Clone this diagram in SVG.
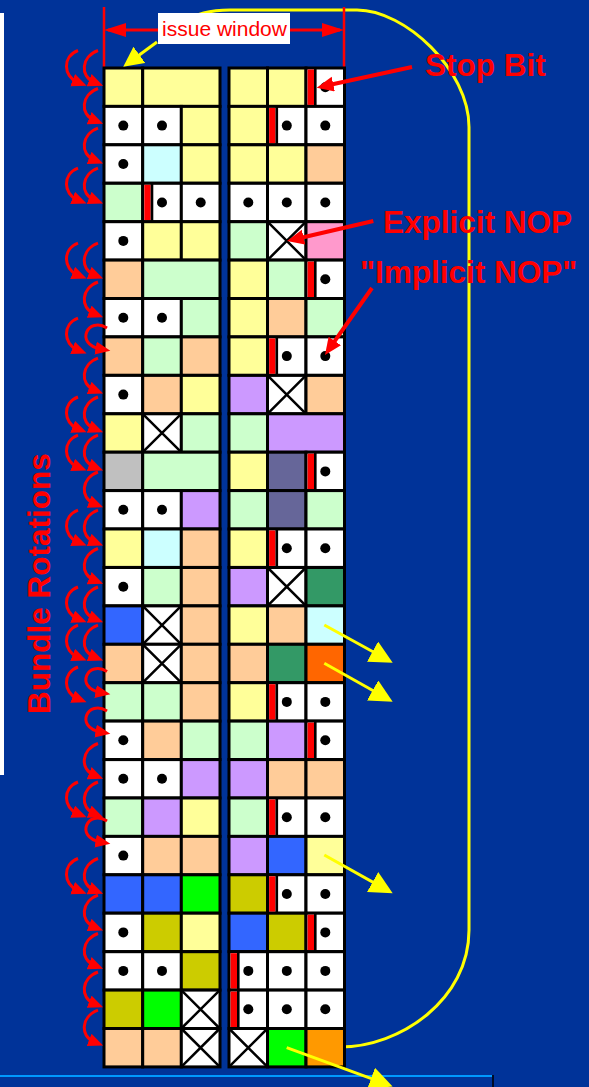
<svg xmlns="http://www.w3.org/2000/svg" xmlns:xlink="http://www.w3.org/1999/xlink" width="589" height="1087" viewBox="0 0 589 1087">
<style>
.c{stroke:#000;stroke-width:3}
.w{fill:#fff}.y{fill:#FFFF99}.cy{fill:#CCFFFF}.p{fill:#FFCC99}.g{fill:#CCFFCC}.pk{fill:#FF99CC}.pu{fill:#CC99FF}.gr{fill:#C0C0C0}.sl{fill:#666699}.dg{fill:#339966}.b{fill:#3366FF}.o{fill:#FF6600}.gn{fill:#00FF00}.ol{fill:#CCCC00}.or{fill:#FF9900}
.rot{fill:none;stroke:#F00;stroke-width:3;marker-end:url(#mr)}
.ann{fill:none;stroke:#F00;stroke-width:4;marker-end:url(#ma)}
.ya{fill:none;stroke:#FF0;stroke-width:3;marker-end:url(#my)}
.lbl{font-family:"Liberation Sans",Arial,sans-serif;font-weight:bold;font-size:31.5px;fill:#F00}
</style>
<defs>
<path id="X" d="M0 0L38.5 38.4M38.5 0L0 38.4" fill="none" stroke="#000" stroke-width="2.5"/>
<g id="S"><rect x="1.6" y="1.5" width="6.4" height="35.4" fill="#F00"/><rect x="8" y="0" width="2.6" height="38.4" fill="#000"/></g>
<marker id="mr" markerUnits="userSpaceOnUse" markerWidth="16" markerHeight="14" refX="5" refY="6.5" orient="auto"><path d="M0 0L15 6.5L0 13z" fill="#F00"/></marker>
<marker id="ma" markerUnits="userSpaceOnUse" markerWidth="18" markerHeight="16" refX="9" refY="7.5" orient="auto"><path d="M0 0L17 7.5L0 15z" fill="#F00"/></marker>
<marker id="my" markerUnits="userSpaceOnUse" markerWidth="24" markerHeight="24" refX="15" refY="11.5" orient="auto"><path d="M0 0L23 11.5L0 23z" fill="#FF0"/></marker>
<marker id="my2" markerUnits="userSpaceOnUse" markerWidth="21" markerHeight="21" refX="12" refY="10" orient="auto"><path d="M0 0L20 10L0 20z" fill="#FF0"/></marker>
<marker id="mw" markerUnits="userSpaceOnUse" markerWidth="23" markerHeight="15" refX="18" refY="7" orient="auto-start-reverse"><path d="M0 0L22 7L0 14z" fill="#F00"/></marker>
</defs>
<rect width="589" height="1087" fill="#003399"/>
<rect x="0" y="13" width="4" height="762" fill="#fff"/>
<line x1="0" y1="1076" x2="492" y2="1076" stroke="#0099FF" stroke-width="2"/>
<line x1="493" y1="1075" x2="493" y2="1087" stroke="#000" stroke-width="1.5"/>

<g id="yellow-loop"><path d="M185 22Q200 10 230 10L357 10C405 10 469 70 469 127L469 930C469 1000 400 1047 340 1047L325 1047" fill="none" stroke="#FF0" stroke-width="3"/></g>

<g id="window-marker">
<line x1="104" y1="7" x2="104" y2="68" stroke="#F00" stroke-width="2.5"/>
<line x1="344" y1="7" x2="344" y2="68" stroke="#F00" stroke-width="2.5"/>
<line x1="108" y1="30" x2="340" y2="30" stroke="#F00" stroke-width="3" marker-start="url(#mw)" marker-end="url(#mw)"/>
<rect x="158" y="13" width="132" height="31" fill="#fff"/>
<text x="224.5" y="36" text-anchor="middle" font-family="Liberation Sans, Arial, sans-serif" font-size="21" fill="#F00">issue window</text>
</g>

<g id="bundles">
<g id="L1"><rect class="c y" x="104" y="68" width="38.7" height="38.4"/><rect class="c y" x="142.7" y="68" width="77.3" height="38.4"/></g>
<g id="R1"><rect class="c y" x="229" y="68" width="38.5" height="38.4"/><rect class="c y" x="267.5" y="68" width="38.5" height="38.4"/><rect class="c w" x="306" y="68" width="38.5" height="38.4"/><use href="#S" x="306" y="68"/><circle cx="325.3" cy="87.2" r="5"/></g>

<g id="L2"><rect class="c w" x="104" y="106.4" width="38.7" height="38.4"/><circle cx="123.3" cy="125.6" r="5"/><rect class="c w" x="142.7" y="106.4" width="38.7" height="38.4"/><circle cx="162" cy="125.6" r="5"/><rect class="c y" x="181.3" y="106.4" width="38.7" height="38.4"/></g>
<g id="R2"><rect class="c y" x="229" y="106.4" width="38.5" height="38.4"/><rect class="c w" x="267.5" y="106.4" width="38.5" height="38.4"/><use href="#S" x="267.5" y="106.4"/><circle cx="286.8" cy="125.6" r="5"/><rect class="c w" x="306" y="106.4" width="38.5" height="38.4"/><circle cx="325.3" cy="125.6" r="5"/></g>

<g id="L3"><rect class="c w" x="104" y="144.8" width="38.7" height="38.4"/><circle cx="123.3" cy="164" r="5"/><rect class="c cy" x="142.7" y="144.8" width="38.7" height="38.4"/><rect class="c y" x="181.3" y="144.8" width="38.7" height="38.4"/></g>
<g id="R3"><rect class="c y" x="229" y="144.8" width="38.5" height="38.4"/><rect class="c y" x="267.5" y="144.8" width="38.5" height="38.4"/><rect class="c p" x="306" y="144.8" width="38.5" height="38.4"/></g>

<g id="L4"><rect class="c g" x="104" y="183.3" width="38.7" height="38.4"/><rect class="c w" x="142.7" y="183.3" width="38.7" height="38.4"/><use href="#S" x="142.7" y="183.3"/><circle cx="162" cy="202.5" r="5"/><rect class="c w" x="181.3" y="183.3" width="38.7" height="38.4"/><circle cx="200.7" cy="202.5" r="5"/></g>
<g id="R4"><rect class="c w" x="229" y="183.3" width="38.5" height="38.4"/><circle cx="248.3" cy="202.5" r="5"/><rect class="c w" x="267.5" y="183.3" width="38.5" height="38.4"/><circle cx="286.8" cy="202.5" r="5"/><rect class="c w" x="306" y="183.3" width="38.5" height="38.4"/><circle cx="325.3" cy="202.5" r="5"/></g>

<g id="L5"><rect class="c w" x="104" y="221.7" width="38.7" height="38.4"/><circle cx="123.3" cy="240.9" r="5"/><rect class="c y" x="142.7" y="221.7" width="38.7" height="38.4"/><rect class="c y" x="181.3" y="221.7" width="38.7" height="38.4"/></g>
<g id="R5"><rect class="c g" x="229" y="221.7" width="38.5" height="38.4"/><rect class="c w" x="267.5" y="221.7" width="38.5" height="38.4"/><use href="#X" x="267.5" y="221.7"/><rect class="c pk" x="306" y="221.7" width="38.5" height="38.4"/></g>

<g id="L6"><rect class="c p" x="104" y="260.1" width="38.7" height="38.4"/><rect class="c g" x="142.7" y="260.1" width="77.3" height="38.4"/></g>
<g id="R6"><rect class="c y" x="229" y="260.1" width="38.5" height="38.4"/><rect class="c g" x="267.5" y="260.1" width="38.5" height="38.4"/><rect class="c w" x="306" y="260.1" width="38.5" height="38.4"/><use href="#S" x="306" y="260.1"/><circle cx="325.3" cy="279.3" r="5"/></g>

<g id="L7"><rect class="c w" x="104" y="298.5" width="38.7" height="38.4"/><circle cx="123.3" cy="317.7" r="5"/><rect class="c w" x="142.7" y="298.5" width="38.7" height="38.4"/><circle cx="162" cy="317.7" r="5"/><rect class="c g" x="181.3" y="298.5" width="38.7" height="38.4"/></g>
<g id="R7"><rect class="c y" x="229" y="298.5" width="38.5" height="38.4"/><rect class="c p" x="267.5" y="298.5" width="38.5" height="38.4"/><rect class="c g" x="306" y="298.5" width="38.5" height="38.4"/></g>

<g id="L8"><rect class="c p" x="104" y="336.9" width="38.7" height="38.4"/><rect class="c g" x="142.7" y="336.9" width="38.7" height="38.4"/><rect class="c p" x="181.3" y="336.9" width="38.7" height="38.4"/></g>
<g id="R8"><rect class="c y" x="229" y="336.9" width="38.5" height="38.4"/><rect class="c w" x="267.5" y="336.9" width="38.5" height="38.4"/><use href="#S" x="267.5" y="336.9"/><circle cx="286.8" cy="356.1" r="5"/><rect class="c w" x="306" y="336.9" width="38.5" height="38.4"/><circle cx="325.3" cy="356.1" r="5"/></g>

<g id="L9"><rect class="c w" x="104" y="375.4" width="38.7" height="38.4"/><circle cx="123.3" cy="394.6" r="5"/><rect class="c p" x="142.7" y="375.4" width="38.7" height="38.4"/><rect class="c y" x="181.3" y="375.4" width="38.7" height="38.4"/></g>
<g id="R9"><rect class="c pu" x="229" y="375.4" width="38.5" height="38.4"/><rect class="c w" x="267.5" y="375.4" width="38.5" height="38.4"/><use href="#X" x="267.5" y="375.4"/><rect class="c p" x="306" y="375.4" width="38.5" height="38.4"/></g>

<g id="L10"><rect class="c y" x="104" y="413.8" width="38.7" height="38.4"/><rect class="c w" x="142.7" y="413.8" width="38.7" height="38.4"/><use href="#X" x="142.7" y="413.8"/><rect class="c g" x="181.3" y="413.8" width="38.7" height="38.4"/></g>
<g id="R10"><rect class="c g" x="229" y="413.8" width="38.5" height="38.4"/><rect class="c pu" x="267.5" y="413.8" width="77" height="38.4"/></g>

<g id="L11"><rect class="c gr" x="104" y="452.2" width="38.7" height="38.4"/><rect class="c g" x="142.7" y="452.2" width="77.3" height="38.4"/></g>
<g id="R11"><rect class="c y" x="229" y="452.2" width="38.5" height="38.4"/><rect class="c sl" x="267.5" y="452.2" width="38.5" height="38.4"/><rect class="c w" x="306" y="452.2" width="38.5" height="38.4"/><use href="#S" x="306" y="452.2"/><circle cx="325.3" cy="471.4" r="5"/></g>

<g id="L12"><rect class="c w" x="104" y="490.6" width="38.7" height="38.4"/><circle cx="123.3" cy="509.8" r="5"/><rect class="c w" x="142.7" y="490.6" width="38.7" height="38.4"/><circle cx="162" cy="509.8" r="5"/><rect class="c pu" x="181.3" y="490.6" width="38.7" height="38.4"/></g>
<g id="R12"><rect class="c g" x="229" y="490.6" width="38.5" height="38.4"/><rect class="c sl" x="267.5" y="490.6" width="38.5" height="38.4"/><rect class="c g" x="306" y="490.6" width="38.5" height="38.4"/></g>

<g id="L13"><rect class="c y" x="104" y="529" width="38.7" height="38.4"/><rect class="c cy" x="142.7" y="529" width="38.7" height="38.4"/><rect class="c p" x="181.3" y="529" width="38.7" height="38.4"/></g>
<g id="R13"><rect class="c y" x="229" y="529" width="38.5" height="38.4"/><rect class="c w" x="267.5" y="529" width="38.5" height="38.4"/><use href="#S" x="267.5" y="529"/><circle cx="286.8" cy="548.2" r="5"/><rect class="c w" x="306" y="529" width="38.5" height="38.4"/><circle cx="325.3" cy="548.2" r="5"/></g>

<g id="L14"><rect class="c w" x="104" y="567.5" width="38.7" height="38.4"/><circle cx="123.3" cy="586.7" r="5"/><rect class="c g" x="142.7" y="567.5" width="38.7" height="38.4"/><rect class="c p" x="181.3" y="567.5" width="38.7" height="38.4"/></g>
<g id="R14"><rect class="c pu" x="229" y="567.5" width="38.5" height="38.4"/><rect class="c w" x="267.5" y="567.5" width="38.5" height="38.4"/><use href="#X" x="267.5" y="567.5"/><rect class="c dg" x="306" y="567.5" width="38.5" height="38.4"/></g>

<g id="L15"><rect class="c b" x="104" y="605.9" width="38.7" height="38.4"/><rect class="c w" x="142.7" y="605.9" width="38.7" height="38.4"/><use href="#X" x="142.7" y="605.9"/><rect class="c p" x="181.3" y="605.9" width="38.7" height="38.4"/></g>
<g id="R15"><rect class="c y" x="229" y="605.9" width="38.5" height="38.4"/><rect class="c p" x="267.5" y="605.9" width="38.5" height="38.4"/><rect class="c cy" x="306" y="605.9" width="38.5" height="38.4"/></g>

<g id="L16"><rect class="c p" x="104" y="644.3" width="38.7" height="38.4"/><rect class="c w" x="142.7" y="644.3" width="38.7" height="38.4"/><use href="#X" x="142.7" y="644.3"/><rect class="c p" x="181.3" y="644.3" width="38.7" height="38.4"/></g>
<g id="R16"><rect class="c p" x="229" y="644.3" width="38.5" height="38.4"/><rect class="c dg" x="267.5" y="644.3" width="38.5" height="38.4"/><rect class="c o" x="306" y="644.3" width="38.5" height="38.4"/></g>

<g id="L17"><rect class="c g" x="104" y="682.7" width="38.7" height="38.4"/><rect class="c g" x="142.7" y="682.7" width="38.7" height="38.4"/><rect class="c p" x="181.3" y="682.7" width="38.7" height="38.4"/></g>
<g id="R17"><rect class="c y" x="229" y="682.7" width="38.5" height="38.4"/><rect class="c w" x="267.5" y="682.7" width="38.5" height="38.4"/><use href="#S" x="267.5" y="682.7"/><circle cx="286.8" cy="701.9" r="5"/><rect class="c w" x="306" y="682.7" width="38.5" height="38.4"/><circle cx="325.3" cy="701.9" r="5"/></g>

<g id="L18"><rect class="c w" x="104" y="721.1" width="38.7" height="38.4"/><circle cx="123.3" cy="740.3" r="5"/><rect class="c p" x="142.7" y="721.1" width="38.7" height="38.4"/><rect class="c g" x="181.3" y="721.1" width="38.7" height="38.4"/></g>
<g id="R18"><rect class="c g" x="229" y="721.1" width="38.5" height="38.4"/><rect class="c pu" x="267.5" y="721.1" width="38.5" height="38.4"/><rect class="c w" x="306" y="721.1" width="38.5" height="38.4"/><use href="#S" x="306" y="721.1"/><circle cx="325.3" cy="740.3" r="5"/></g>

<g id="L19"><rect class="c w" x="104" y="759.6" width="38.7" height="38.4"/><circle cx="123.3" cy="778.8" r="5"/><rect class="c w" x="142.7" y="759.6" width="38.7" height="38.4"/><circle cx="162" cy="778.8" r="5"/><rect class="c pu" x="181.3" y="759.6" width="38.7" height="38.4"/></g>
<g id="R19"><rect class="c pu" x="229" y="759.6" width="38.5" height="38.4"/><rect class="c p" x="267.5" y="759.6" width="38.5" height="38.4"/><rect class="c p" x="306" y="759.6" width="38.5" height="38.4"/></g>

<g id="L20"><rect class="c g" x="104" y="798" width="38.7" height="38.4"/><rect class="c pu" x="142.7" y="798" width="38.7" height="38.4"/><rect class="c y" x="181.3" y="798" width="38.7" height="38.4"/></g>
<g id="R20"><rect class="c g" x="229" y="798" width="38.5" height="38.4"/><rect class="c w" x="267.5" y="798" width="38.5" height="38.4"/><use href="#S" x="267.5" y="798"/><circle cx="286.8" cy="817.2" r="5"/><rect class="c w" x="306" y="798" width="38.5" height="38.4"/><circle cx="325.3" cy="817.2" r="5"/></g>

<g id="L21"><rect class="c w" x="104" y="836.4" width="38.7" height="38.4"/><circle cx="123.3" cy="855.6" r="5"/><rect class="c p" x="142.7" y="836.4" width="38.7" height="38.4"/><rect class="c p" x="181.3" y="836.4" width="38.7" height="38.4"/></g>
<g id="R21"><rect class="c pu" x="229" y="836.4" width="38.5" height="38.4"/><rect class="c b" x="267.5" y="836.4" width="38.5" height="38.4"/><rect class="c y" x="306" y="836.4" width="38.5" height="38.4"/></g>

<g id="L22"><rect class="c b" x="104" y="874.8" width="38.7" height="38.4"/><rect class="c b" x="142.7" y="874.8" width="38.7" height="38.4"/><rect class="c gn" x="181.3" y="874.8" width="38.7" height="38.4"/></g>
<g id="R22"><rect class="c ol" x="229" y="874.8" width="38.5" height="38.4"/><rect class="c w" x="267.5" y="874.8" width="38.5" height="38.4"/><use href="#S" x="267.5" y="874.8"/><circle cx="286.8" cy="894" r="5"/><rect class="c w" x="306" y="874.8" width="38.5" height="38.4"/><circle cx="325.3" cy="894" r="5"/></g>

<g id="L23"><rect class="c w" x="104" y="913.2" width="38.7" height="38.4"/><circle cx="123.3" cy="932.4" r="5"/><rect class="c ol" x="142.7" y="913.2" width="38.7" height="38.4"/><rect class="c y" x="181.3" y="913.2" width="38.7" height="38.4"/></g>
<g id="R23"><rect class="c b" x="229" y="913.2" width="38.5" height="38.4"/><rect class="c ol" x="267.5" y="913.2" width="38.5" height="38.4"/><rect class="c w" x="306" y="913.2" width="38.5" height="38.4"/><use href="#S" x="306" y="913.2"/><circle cx="325.3" cy="932.4" r="5"/></g>

<g id="L24"><rect class="c w" x="104" y="951.7" width="38.7" height="38.4"/><circle cx="123.3" cy="970.9" r="5"/><rect class="c w" x="142.7" y="951.7" width="38.7" height="38.4"/><circle cx="162" cy="970.9" r="5"/><rect class="c ol" x="181.3" y="951.7" width="38.7" height="38.4"/></g>
<g id="R24"><rect class="c w" x="229" y="951.7" width="38.5" height="38.4"/><use href="#S" x="229" y="951.7"/><circle cx="248.3" cy="970.9" r="5"/><rect class="c w" x="267.5" y="951.7" width="38.5" height="38.4"/><circle cx="286.8" cy="970.9" r="5"/><rect class="c w" x="306" y="951.7" width="38.5" height="38.4"/><circle cx="325.3" cy="970.9" r="5"/></g>

<g id="L25"><rect class="c ol" x="104" y="990.1" width="38.7" height="38.4"/><rect class="c gn" x="142.7" y="990.1" width="38.7" height="38.4"/><rect class="c w" x="181.3" y="990.1" width="38.7" height="38.4"/><use href="#X" x="181.3" y="990.1"/></g>
<g id="R25"><rect class="c w" x="229" y="990.1" width="38.5" height="38.4"/><use href="#S" x="229" y="990.1"/><circle cx="248.3" cy="1009.3" r="5"/><rect class="c w" x="267.5" y="990.1" width="38.5" height="38.4"/><circle cx="286.8" cy="1009.3" r="5"/><rect class="c w" x="306" y="990.1" width="38.5" height="38.4"/><circle cx="325.3" cy="1009.3" r="5"/></g>

<g id="L26"><rect class="c p" x="104" y="1028.5" width="38.7" height="38.4"/><rect class="c p" x="142.7" y="1028.5" width="38.7" height="38.4"/><rect class="c w" x="181.3" y="1028.5" width="38.7" height="38.4"/><use href="#X" x="181.3" y="1028.5"/></g>
<g id="R26"><rect class="c w" x="229" y="1028.5" width="38.5" height="38.4"/><use href="#X" x="229" y="1028.5"/><rect class="c gn" x="267.5" y="1028.5" width="38.5" height="38.4"/><rect class="c or" x="306" y="1028.5" width="38.5" height="38.4"/></g>
</g>

<g id="connectors">
<g id="rotations">
<path class="rot" d="M98 50.5C81 56.5 80 76.5 93.8 82"/>
<path class="rot" d="M98 88.5C81 94.5 80 114.5 93.8 120"/>
<path class="rot" d="M98 128.2C81 134.2 80 154.2 93.8 159.7"/>
<path class="rot" d="M98 168.2C81 174.2 80 194.2 93.8 199.7"/>
<path class="rot" d="M98 243.2C81 249.2 80 269.2 93.8 274.7"/>
<path class="rot" d="M98 282C81 288 80 308 93.8 313.5"/>
<path class="rot" d="M98 358.2C81 364.2 80 384.2 93.8 389.7"/>
<path class="rot" d="M98 397C81 403 80 423 93.8 428.5"/>
<path class="rot" d="M98 435.2C81 441.2 80 461.2 93.8 466.7"/>
<path class="rot" d="M98 472C81 478 80 498 93.8 503.5"/>
<path class="rot" d="M98 510.2C81 516.2 80 536.2 93.8 541.7"/>
<path class="rot" d="M98 548.5C81 554.5 80 574.5 93.8 580"/>
<path class="rot" d="M98 587C81 593 80 613 93.8 618.5"/>
<path class="rot" d="M98 625.2C81 631.2 80 651.2 93.8 656.7"/>
<path class="rot" d="M98 743.5C81 749.5 80 769.5 93.8 775"/>
<path class="rot" d="M98 782C81 788 80 808 93.8 813.5"/>
<path class="rot" d="M98 858.5C81 864.5 80 884.5 93.8 890"/>
<path class="rot" d="M98 895.2C81 901.2 80 921.2 93.8 926.7"/>
<path class="rot" d="M98 933.5C81 939.5 80 959.5 93.8 965"/>
<path class="rot" d="M98 972C81 978 80 998 93.8 1003.5"/>
<path class="rot" d="M98 1010.2C81 1016.2 80 1036.2 93.8 1041.7"/>
<path class="rot" d="M78 50.5C62 56.5 63.5 76.5 77.3 82"/>
<path class="rot" d="M78 168.2C62 174.2 63.5 194.2 77.3 199.7"/>
<path class="rot" d="M78 243.2C62 249.2 63.5 269.2 77.3 274.7"/>
<path class="rot" d="M78 318.2C62 324.2 63.5 344.2 77.3 349.7"/>
<path class="rot" d="M78 397C62 403 63.5 423 77.3 428.5"/>
<path class="rot" d="M78 435.2C62 441.2 63.5 461.2 77.3 466.7"/>
<path class="rot" d="M78 510.2C62 516.2 63.5 536.2 77.3 541.7"/>
<path class="rot" d="M78 587C62 593 63.5 613 77.3 618.5"/>
<path class="rot" d="M78 625.2C62 631.2 63.5 651.2 77.3 656.7"/>
<path class="rot" d="M78 667C62 673 63.5 693 77.3 698.5"/>
<path class="rot" d="M78 782C62 788 63.5 808 77.3 813.5"/>
<path class="rot" d="M78 858.5C62 864.5 63.5 884.5 77.3 890"/>
<path class="rot" d="M107 328C88 316 74 344 100.5 349"/>
<path class="rot" d="M107 671.5C88 659.5 74 687.5 100.5 692.5"/>
<path class="rot" d="M107 711C88 699 74 727 100.5 732"/>
<path class="rot" d="M107 821C88 809 74 837 100.5 842"/>
</g>
<path class="ann" d="M412 67L324.5 86"/>
<path class="ann" d="M373.3 221L294.8 239.2"/>
<path class="ann" d="M372 288L329.6 348.4"/>
<path d="M157 42L129.7 62" fill="none" stroke="#FF0" stroke-width="3" marker-end="url(#my2)"/>
<path class="ya" d="M324.3 625L385.7 658.8"/>
<path class="ya" d="M324.3 663.3L385.7 697.8"/>
<path class="ya" d="M324.3 855L385.7 889.4"/>
<path class="ya" d="M286.7 1047.7L385.1 1083.7"/>
</g>

<g id="labels">
<text class="lbl" x="425" y="75.5">Stop Bit</text>
<text class="lbl" x="383" y="233">Explicit NOP</text>
<text class="lbl" x="360" y="282.5">"Implicit NOP"</text>
<text class="lbl" text-anchor="middle" transform="translate(50 583.5) rotate(-90)">Bundle Rotations</text>
</g>
</svg>
